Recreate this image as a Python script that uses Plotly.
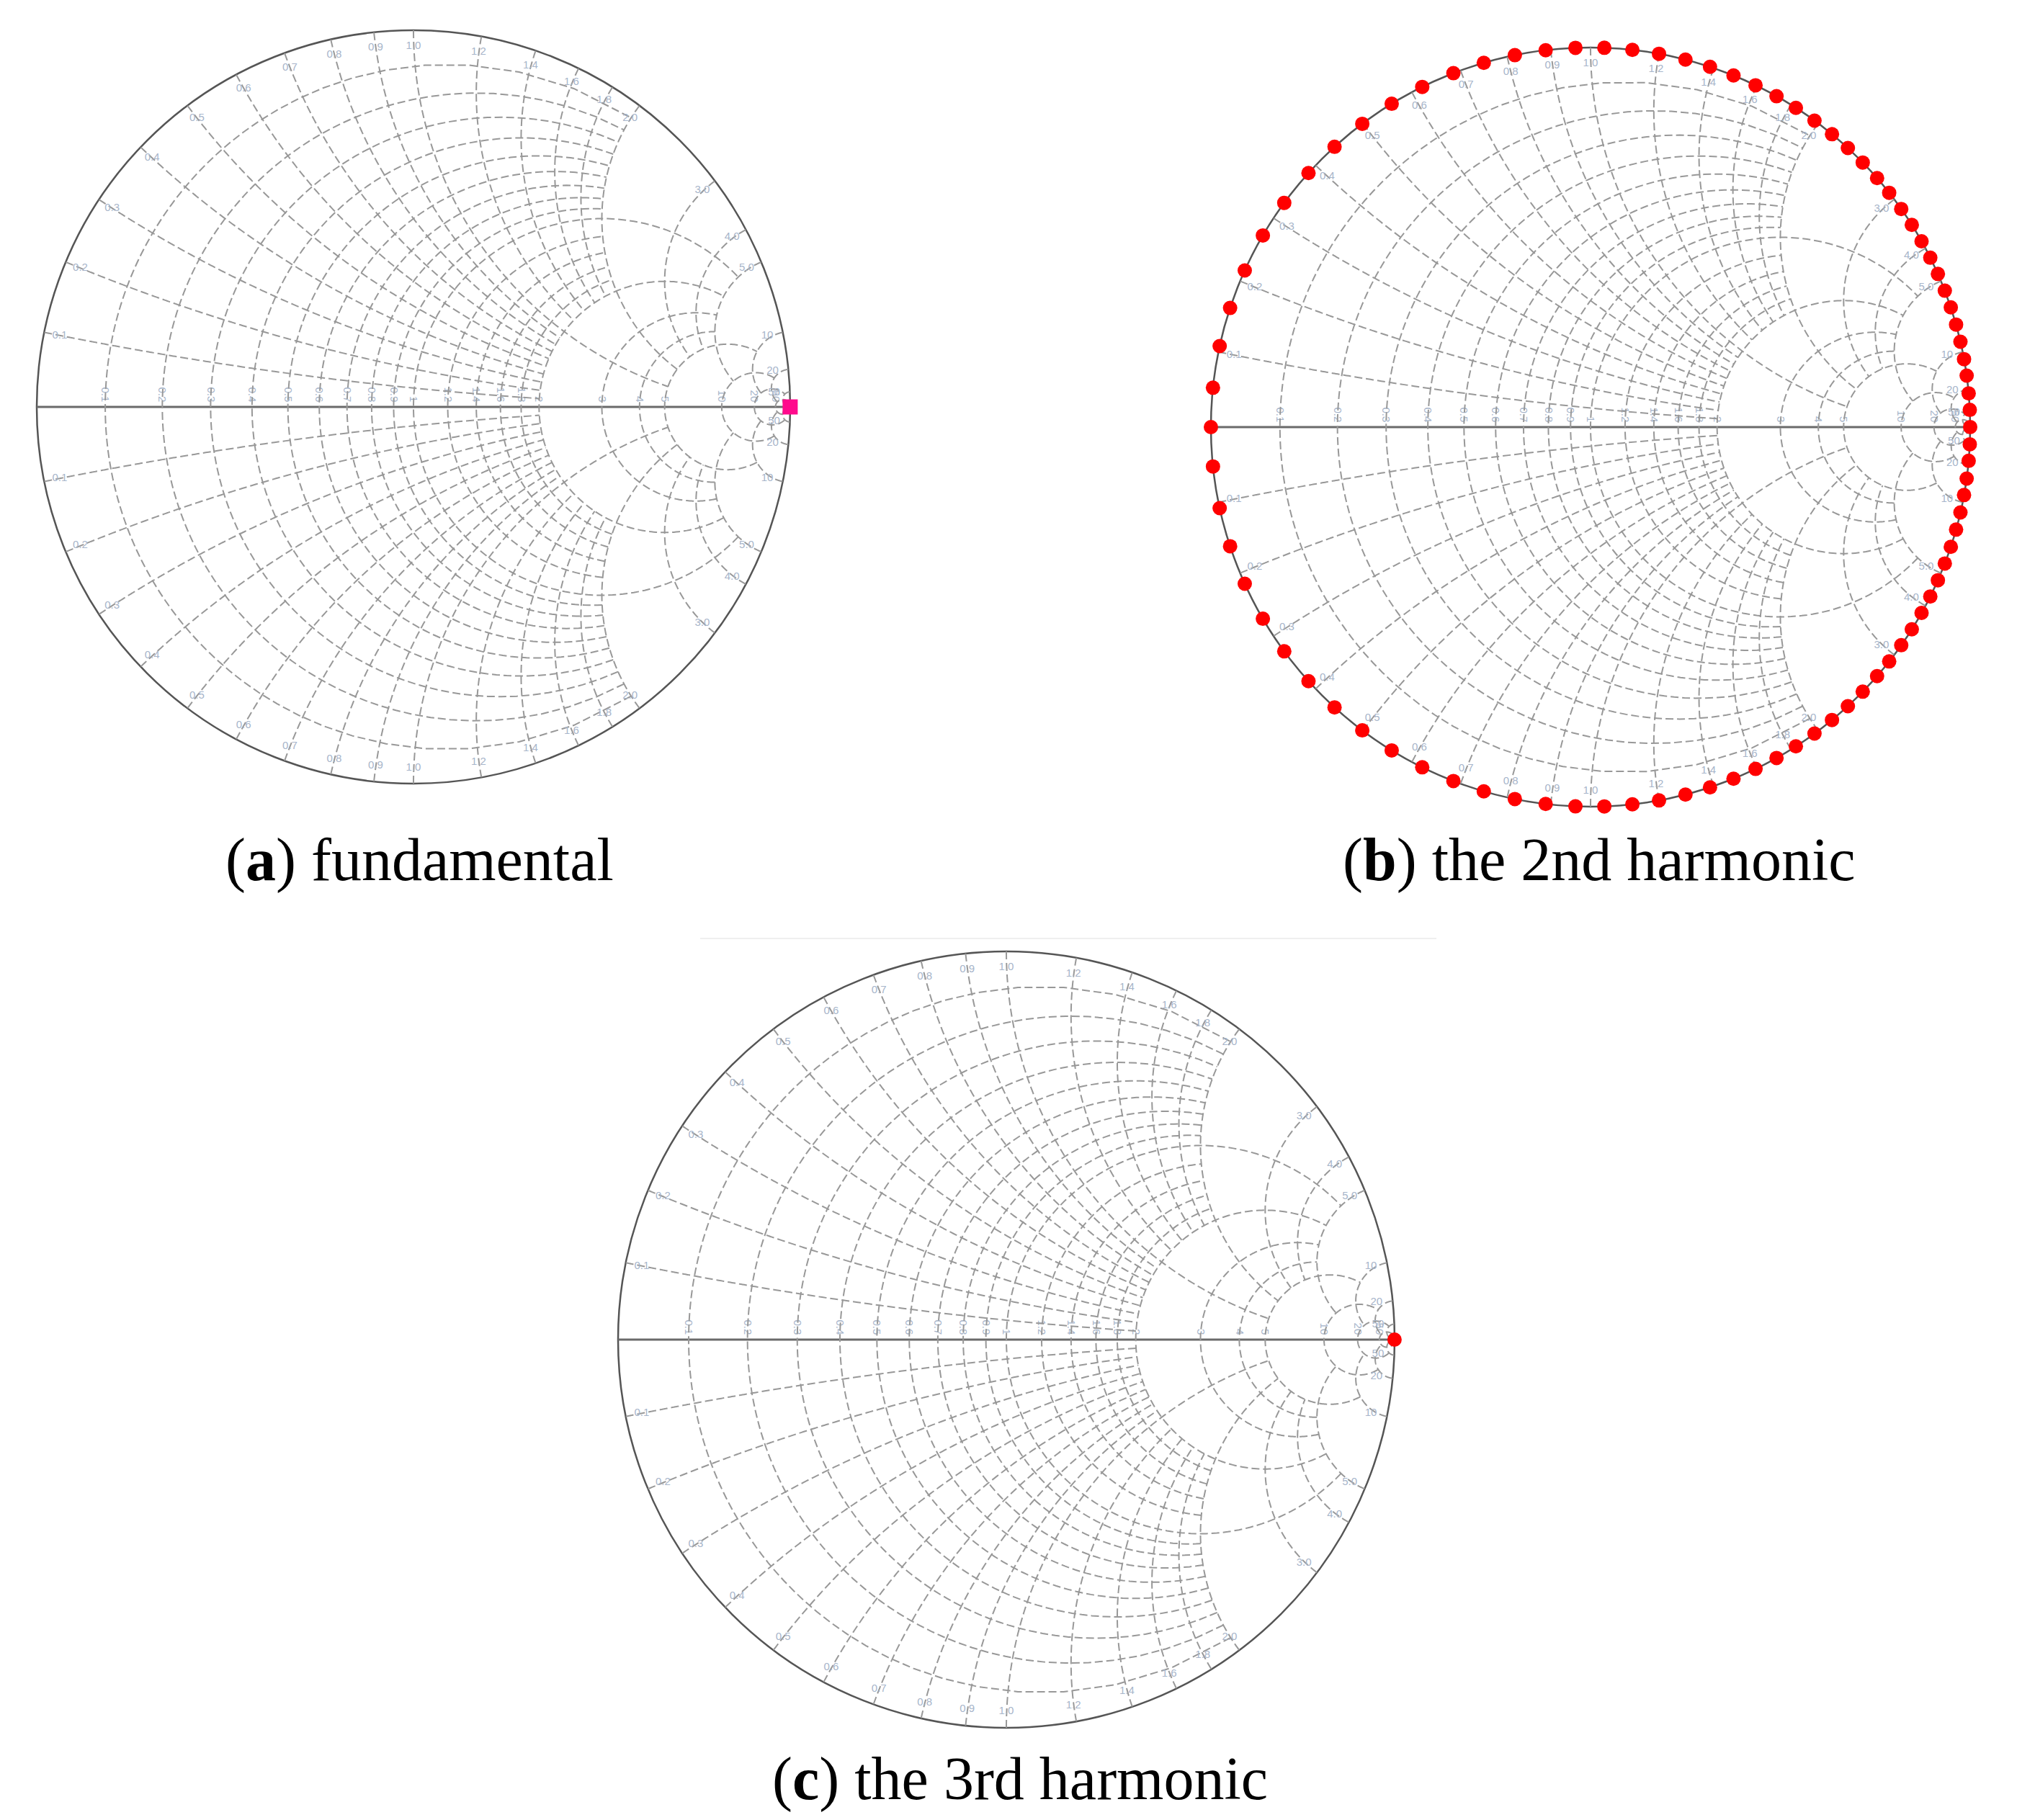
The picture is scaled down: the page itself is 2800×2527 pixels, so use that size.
import numpy as np
import plotly.graph_objects as go

# ---- Smith chart grid values (normalised impedance) ----
real_ticks = [0.1, 0.2, 0.3, 0.4, 0.5, 0.6, 0.7, 0.8, 0.9, 1.0,
              1.2, 1.4, 1.6, 1.8, 2.0, 3.0, 4.0, 5.0, 10, 20, 50]
imag_ticks_pos = [0.1, 0.2, 0.3, 0.4, 0.5, 0.6, 0.7, 0.8, 0.9, 1.0,
                  1.2, 1.4, 1.6, 1.8, 2.0, 3.0, 4.0, 5.0, 10, 20, 50]
imag_ticks_neg = [-0.1, -0.2, -0.3, -0.4, -0.5, -0.6, -0.7, -0.8, -0.9, -1.0,
                  -1.2, -1.4, -1.6, -1.8, -2.0, -3.0, -4.0, -5.0, -10, -20, -50]
# how far each grid circle / arc runs (ADS-style clipped grid)
grid_limits = [2, 2, 2, 2, 2, 2, 2, 2, 2, 5,
               2, 2, 2, 2, 5, 5, 5, 10, 20, 50, np.inf]

# ---- (a) fundamental: open circuit ----
fund_real = [1e4]
fund_imag = [0.0]

# ---- (b) 2nd harmonic: reactive sweep around the rim ----
h2_imag = [0.0, 0.052, 0.108, 0.161, 0.216, 0.271, 0.327, 0.384, 0.441, 0.499,
           0.559, 0.621, 0.685, 0.749, 0.817, 0.888, 0.961, 1.037, 1.117, 1.200,
           1.291, 1.385, 1.486, 1.593, 1.709, 1.832, 1.969, 2.120, 2.282, 2.463,
           2.675, 2.894, 3.164, 3.465, 3.823, 4.247, 4.745, 5.379, 6.180, 7.269,
           8.777, 11.08, 14.67, 22.46, 44.07, 1e4,
           -44.07, -22.46, -14.67, -11.08, -8.777, -7.269, -6.180, -5.379, -4.745, -4.247,
           -3.823, -3.465, -3.164, -2.894, -2.675, -2.463, -2.282, -2.120, -1.969, -1.832,
           -1.709, -1.593, -1.486, -1.385, -1.291, -1.200, -1.117, -1.037, -0.961, -0.888,
           -0.817, -0.749, -0.685, -0.621, -0.559, -0.499, -0.441, -0.384, -0.327, -0.271,
           -0.216, -0.161, -0.108, -0.052]
h2_real = [0.0] * len(h2_imag)

# ---- (c) 3rd harmonic: open circuit ----
h3_real = [1e4]
h3_imag = [0.0]

captions = ["(<b>a</b>) fundamental", "(<b>b</b>) the 2nd harmonic", "(<b>c</b>) the 3rd harmonic"]

W, H = 2800, 2527
GRID = "#989898"
LBL = "#a7b5ca"


def smith_layout(cx, cy, r):
    return dict(
        domain=dict(x=[(cx - r) / W, (cx + r) / W],
                    y=[(H - cy - r) / H, (H - cy + r) / H]),
        bgcolor="white",
        realaxis=dict(
            tickvals=real_ticks, showgrid=False, layer="below traces",
            showline=True, linecolor="#6a6a6a", linewidth=3,
            ticks="", side="top", tickangle=90,
            tickfont=dict(family="Arial", size=15, color=LBL),
        ),
        imaginaryaxis=dict(
            tickvals=imag_ticks_pos + imag_ticks_neg, showgrid=False,
            layer="below traces",
            showline=True, linecolor="#555555", linewidth=2.5,
            ticks="", showticklabels=False,
        ),
    )


def t_end(v, lim):
    return np.arctan(lim / v) if np.isfinite(lim) else np.pi / 2 - 1e-4


def grid_trace(subplot):
    re, im = [], []
    # constant-resistance circles
    for v, lim in zip(real_ticks, grid_limits):
        t = np.linspace(-t_end(v, lim), t_end(v, lim), 260)
        re += [v] * len(t) + [None]
        im += list(v * np.tan(t)) + [None]
    # constant-reactance arcs
    for vp, vn, lim in zip(imag_ticks_pos, imag_ticks_neg, grid_limits):
        t = np.linspace(0, t_end(vp, lim), 220)
        rr = list(vp * np.tan(t))
        re += rr + [None] + rr + [None]
        im += [vp] * len(rr) + [None] + [vn] * len(rr) + [None]
    return go.Scattersmith(
        real=re, imag=im, mode="lines", subplot=subplot,
        line=dict(color=GRID, width=2, dash="11px,5px"),
        hoverinfo="skip", showlegend=False,
    )


def rim_labels(subplot):
    # tick labels for the reactance arcs, just inside the rim
    vals = np.array(imag_ticks_pos + imag_ticks_neg)
    g = (1j * vals - 1) / (1j * vals + 1) * 0.958
    z = (1 + g) / (1 - g)
    return go.Scattersmith(
        real=z.real, imag=z.imag, mode="text", subplot=subplot,
        text=[f"{abs(v):g}" if abs(v) >= 10 else f"{abs(v):.1f}" for v in vals],
        textfont=dict(family="Arial", size=15, color=LBL),
        hoverinfo="skip", showlegend=False,
    )


fig = go.Figure()

for sp in ["smith", "smith2", "smith3"]:
    fig.add_trace(grid_trace(sp))
    fig.add_trace(rim_labels(sp))

fig.add_trace(go.Scattersmith(
    real=fund_real, imag=fund_imag, mode="markers", subplot="smith",
    marker=dict(symbol="square", size=21, color="#ff0a8c", line=dict(width=0)),
    cliponaxis=False, showlegend=False,
))
fig.add_trace(go.Scattersmith(
    real=h2_real, imag=h2_imag, mode="markers", subplot="smith2",
    marker=dict(symbol="circle", size=20, color="#ff0000", line=dict(width=0)),
    cliponaxis=False, showlegend=False,
))
fig.add_trace(go.Scattersmith(
    real=h3_real, imag=h3_imag, mode="markers", subplot="smith3",
    marker=dict(symbol="circle", size=20, color="#ff0000", line=dict(width=0)),
    cliponaxis=False, showlegend=False,
))

fig.update_layout(
    width=W, height=H,
    margin=dict(l=0, r=0, t=0, b=0),
    paper_bgcolor="white",
    template="none",
    smith=smith_layout(566, 557, 523),
    smith2=smith_layout(2200, 585, 527),
    smith3=smith_layout(1389, 1852, 539),
    showlegend=False,
)

# faint rule above panel (c)
fig.add_shape(type="line", xref="paper", yref="paper",
              x0=964 / W, x1=1986 / W, y0=(H - 1295) / H, y1=(H - 1295) / H,
              line=dict(color="#efefef", width=2))

cap_pos = [(574, 1186), (2212, 1186), (1408, 2462)]
for txt, (x, y) in zip(captions, cap_pos):
    fig.add_annotation(
        text=txt, x=x / W, y=(H - y) / H, xref="paper", yref="paper",
        xanchor="center", yanchor="middle", showarrow=False,
        font=dict(family="Liberation Serif", size=84, color="black"),
    )

fig.write_html("out.html")
